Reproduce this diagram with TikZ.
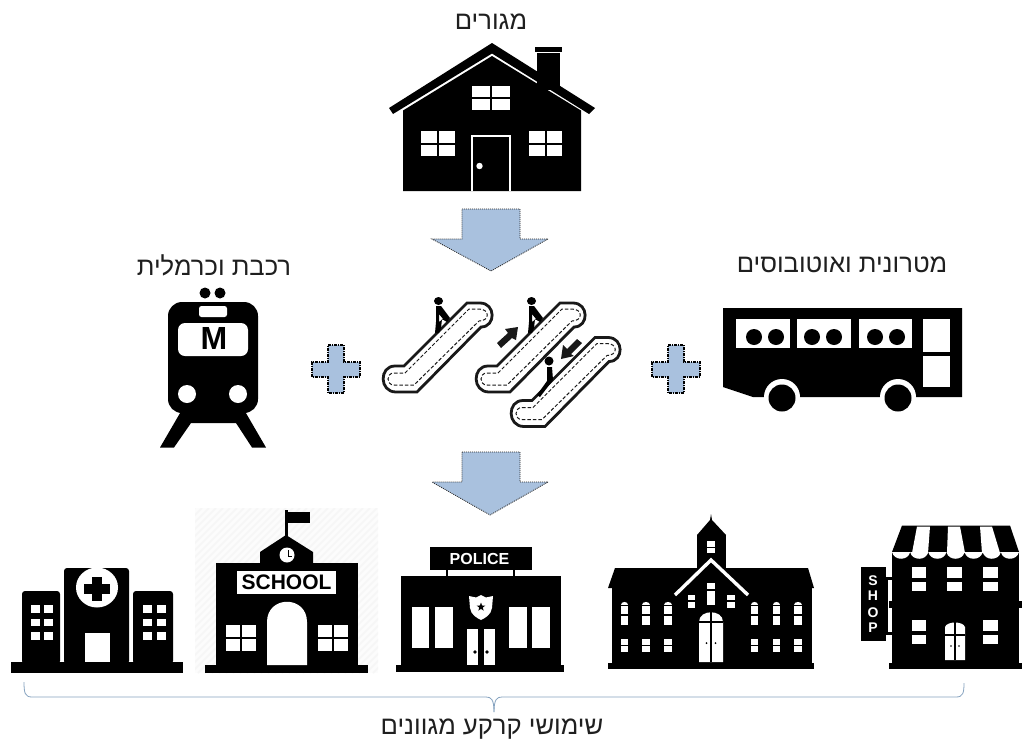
\documentclass[tikz,border=0pt]{standalone}
\usepackage{fontspec}
\usetikzlibrary{shapes.geometric}
\setmainfont{Liberation Sans}
\newfontfamily\hebfont[Script=Hebrew]{Liberation Sans}
\TeXXeTstate=1
\definecolor{arrowblue}{HTML}{A9C1DE}
\definecolor{bracecol}{HTML}{86A3C0}
\newcommand{\crosswin}[5]{% x1 y1 x2 y2 bar
  \fill[white] (#1,#2) rectangle (#3,#4);
  \draw[black,line width=#5pt] ({(#1+#3)/2},#2) -- ({(#1+#3)/2},#4) (#1,{(#2+#4)/2}) -- (#3,{(#2+#4)/2});}
\newcommand{\whitebox}[4]{\fill[white] (#1,#2) rectangle (#3,#4);}
\newcommand{\splitwin}[5]{% x1 y1 x2 y2 ybreak
  \fill[white] (#1,#2) rectangle (#3,#4);
  \draw[black,line width=1.6pt] (#1,#5) -- (#3,#5);}
\tikzset{
  label text/.style={font=\hebfont\fontsize{25.6}{30}\selectfont,text=black!88,inner sep=0pt,anchor=center},
  block/.style={fill=arrowblue,draw=black!85,line width=0.8pt,dash pattern=on 1pt off 1pt},
  plusblock/.style={fill=arrowblue,draw=black,line width=1.1pt,dash pattern=on 3pt off 1pt on 1pt off 1pt},
  esc outer/.style={fill=white,draw=black!90,line width=2.8pt},
  esc inner/.style={draw=black!90,line width=1pt,dash pattern=on 3.5pt off 2pt},
}
\begin{document}
\begin{tikzpicture}[x=1pt,y=-1pt]
\useasboundingbox (0,0) rectangle (1033,742);
\fill[white] (0,0) rectangle (1033,742);

% labels
\node[label text] (lblhome) at (491,22) {\beginR מגורים\endR};
\node[label text] (lbltrain) at (214,265) {\beginR רכבת וכרמלית\endR};
\node[label text] (lblbus) at (842,265) {\beginR מטרונית ואוטובוסים\endR};
\node[label text] (lblland) at (492,729) {\beginR שימושי קרקע מגוונים\endR};

% house
\fill[black] (537,52.5) rectangle (560,90);
\fill[black] (535,47) rectangle (562,51.5);
\fill[black] (403,110.5) -- (492,56) -- (581,110.5) -- (581,191) -- (403,191) -- cycle;
\fill[black] (492,43) -- (595,108) -- (589,114) -- (492,53.5) -- (393,114) -- (389,108) -- cycle;
\crosswin{472}{86}{510}{110}{2}
\crosswin{421}{131}{455}{156}{2}
\crosswin{529}{131}{562}{156}{2}
\draw[white,line width=1.6pt] (472,191) -- (472,136) -- (510,136) -- (510,191);
\fill[white] (479.5,166) circle[radius=3.2pt];

% arrows
\draw[block] (462,209) -- (520,209) -- (520,239) -- (548,239) -- (491,271) -- (432,239) -- (462,239) -- cycle;
\draw[block] (462,452) -- (520,452) -- (520,482) -- (548,482) -- (490,515) -- (432,482) -- (462,482) -- cycle;

% pluses
\draw[plusblock] (328,345) -- (344,345) -- (344,362) -- (360,362) -- (360,377) -- (344,377) -- (344,393) -- (328,393) -- (328,377) -- (312,377) -- (312,362) -- (328,362) -- cycle;
\draw[plusblock] (668,345) -- (684,345) -- (684,362) -- (700,362) -- (700,377) -- (684,377) -- (684,393) -- (668,393) -- (668,377) -- (652,377) -- (652,362) -- (668,362) -- cycle;

% train
\fill[black] (205,293) circle[radius=5.5pt] (220,293) circle[radius=5.5pt];
\fill[black] (183,408) -- (160,447.5) -- (174,447.5) -- (191,423) -- (236,423) -- (252,447.5) -- (266,447.5) -- (243,408) -- cycle;
\fill[black,rounded corners=14pt] (168,302) rectangle (258,413);
\fill[white,rounded corners=2.5pt] (199,306) rectangle (227,317);
\fill[white,rounded corners=7pt] (178,323) rectangle (248,356);
\node[font=\bfseries\fontsize{32}{32}\selectfont,inner sep=0pt,text=black] (metro) at (214,338) {M};
\fill[white] (187,394) circle[radius=9pt] (238,394) circle[radius=9pt];

% escalators
\foreach \dx/\dy in {0/0,93/0,128/34.5}{
\begin{scope}[shift={(\dx pt,-\dy pt)}]
  \draw[esc outer] (395,366) -- (404,366) -- (467,303) -- (480,303) .. controls (496,303) and (496,327) .. (481,327) -- (417,392) -- (396,392) .. controls (379,392) and (379,366) .. (395,366) -- cycle;
  \draw[esc inner] (394,373) -- (405,373) -- (469,309) -- (479,309) .. controls (490,309) and (490,321) .. (479,321) -- (414,385) -- (394,385) .. controls (386,385) and (386,373) .. (394,373) -- cycle;
\end{scope}}
% riders going up
\foreach \dx in {0,93}{
\begin{scope}[shift={(\dx pt,0pt)}]
  \fill[black] (438.5,301) ellipse[x radius=4.5pt,y radius=4pt];
  \fill[black,even odd rule] (436,306) -- (441,306) -- (450,318) -- (447,322) -- (442,319) -- (441,328) -- (439,333) -- (435,333) -- (436,322) -- cycle
    (439,314) -- (439,322) -- (443,319) -- cycle;
\end{scope}}
% rider going down
\fill[black] (549,361) circle[radius=4.5pt];
\fill[black] (547,367) -- (552,367) -- (553,380) -- (540,397) -- (537,395) -- (547,381) -- cycle;
% direction arrows
\fill[black!90] (497,343) -- (501,348) -- (512,338) -- (516,340) -- (518,327) -- (505,329) -- (508,333) -- cycle;
\fill[black!90] (577,339) -- (582,343) -- (571,354) -- (574,356) -- (561,359) -- (563,345) -- (567,349) -- cycle;

% bus
\fill[black] (723,308) -- (962,308) -- (962,397) -- (753,397) -- (723,387) -- cycle;
\foreach \xa/\xb in {736/790,797/851,859/912}{\fill[white] (\xa,319) rectangle (\xb,348);}
\foreach \xc in {754,776,812,834,875,897}{\fill[black] (\xc,337) circle[radius=8pt];}
\fill[white] (923,319) rectangle (950,352);
\fill[white] (923,356) rectangle (950,387);
\foreach \xc in {782,898}{
  \fill[white] (\xc,397) circle[radius=18pt];
  \fill[black] (\xc,398) circle[radius=13.5pt];}

% hospital
\fill[black] (11,662) rectangle (183,673);
\fill[black,rounded corners=3pt] (64,568) -- (129,568) -- (129,664) -- (64,664) -- cycle;
\fill[black,rounded corners=3pt] (22,664) -- (22,591) -- (60,591) -- (60,664) -- cycle;
\fill[black,rounded corners=3pt] (133,664) -- (133,591) -- (173,591) -- (173,664) -- cycle;
\fill[white] (97,587.5) ellipse[x radius=21pt,y radius=20pt];
\fill[black] (92,577) rectangle (102,601);
\fill[black] (84,584) rectangle (110,594);
\whitebox{85}{633}{110}{662}
\foreach \yy in {605,618.5,632}{
  \foreach \xx in {31,44,143,157}{\fill[white] (\xx,\yy) rectangle ++(8.5,7.5);}}

% school
\begin{scope}
  \clip (195,508) rectangle (378,673);
  \fill[black!1] (195,508) rectangle (378,673);
  \foreach \k in {0,7,...,350}{\draw[black!3.5,line width=1.6pt] ({195+\k-165},673) -- ({195+\k},508);}
\end{scope}
\fill[black] (205,665) rectangle (368,673);
\fill[black] (216,563) rectangle (358,665);
\fill[black] (260,564) -- (260,552) -- (286,535) -- (313,552) -- (313,564) -- cycle;
\fill[black] (285,510) rectangle (288,537);
\fill[black] (288,512) rectangle (310,523);
\fill[white] (287,555) circle[radius=7.5pt];
\draw[black,line width=0.8pt] (288,550) -- (288,556) -- (292,556);
\fill[white] (237,571) rectangle (336,594);
\node[font=\bfseries\fontsize{21}{21}\selectfont,inner sep=0pt,text=black] (schooltext) at (286.5,582.5) {SCHOOL};
\fill[white] (267,665) -- (267,622) .. controls (267,595) and (307,595) .. (307,622) -- (307,665) -- cycle;
\crosswin{226}{625}{256}{651}{2.4}
\crosswin{318}{625}{348}{651}{2.4}

% police
\fill[black] (430,547) rectangle (532,570);
\node[font=\bfseries\fontsize{16}{16}\selectfont,inner sep=0pt,text=white] (policetext) at (479.5,558.5) {POLICE};
\fill[black] (445.5,570) rectangle (447.5,577);
\fill[black] (512.5,570) rectangle (514.5,577);
\fill[black] (401,576) rectangle (561,666);
\fill[black] (396,665) rectangle (564,672);
\foreach \xa/\xb in {412/429,435/453,509/527,532/550}{\fill[white] (\xa,607) rectangle (\xb,648);}
\foreach \xa/\xb in {467/478,484/495}{\fill[white] (\xa,629) rectangle (\xb,665);}
\fill[black] (475,652) circle[radius=1.8pt] (487,652) circle[radius=1.8pt];
\fill[white] (481,595) -- (486,597.5) -- (493,596) -- (492,608) .. controls (491,615) and (485,618) .. (481,620) .. controls (477,618) and (471,615) .. (470,608) -- (469,596) -- (476,597.5) -- cycle;
\node[star,star points=5,star point ratio=2.4,fill=black,minimum size=9pt,inner sep=0pt] (badgestar) at (481,607) {};

% college
\fill[black] (608,663) rectangle (814,669);
\fill[black] (612,588) rectangle (812,664);
\fill[black] (608,588) -- (615,568) -- (808,568) -- (814,588) -- cycle;
\fill[black] (697,535) rectangle (726,570);
\fill[black] (697,535) -- (710,520) -- (711,514) -- (712,520) -- (726,535) -- cycle;
\draw[white,line width=3.4pt] (675,595) -- (711,560) -- (748,595);
\splitwin{707}{541}{715}{553}{547.5}
\splitwin{707}{583}{715}{605}{590}
\splitwin{688}{595}{695}{608}{601}
\splitwin{727}{595}{735}{608}{601}
\foreach \xa/\xb in {621/628,642/650,664/672,751/758,773/780,794/802}{
  \splitwin{\xa}{605}{\xb}{625}{615}
  \fill[white] (\xa,605) .. controls (\xa,601) and (\xb,601) .. (\xb,605);
  \draw[black,line width=0.8pt] (\xa,605) -- (\xb,605);
  \splitwin{\xa}{639}{\xb}{652}{645.5}
}
\fill[white] (699,662) -- (699,622) .. controls (699,609) and (723,609) .. (723,622) -- (723,662) -- cycle;
\draw[black,line width=1.2pt] (711,612) -- (711,662) (699,622) -- (723,622);
\fill[black] (706.5,643) circle[radius=1pt] (715.5,643) circle[radius=1pt];

% shop
\fill[black] (892,552) rectangle (1019,664);
\fill[black] (889,663) rectangle (1022,669);
\fill[black] (889,601) rectangle (893,608);
\fill[black] (1018,601) rectangle (1022,608);
\fill[black] (902,525.5) -- (1010,525.5) -- (1019,552) -- (892,552) -- cycle;
\fill[white] (917,526.5) -- (930,526.5) -- (928,553) -- (912,553) -- cycle;
\fill[white] (948,526.5) -- (960,526.5) -- (965,553) -- (947,553) -- cycle;
\fill[white] (980,526.5) -- (992,526.5) -- (1000,553) -- (982,553) -- cycle;
\foreach \i in {0,...,6}{
  \pgfmathsetmacro{\xs}{892+\i*18.14}
  \pgfmathsetmacro{\xe}{\xs+18.14}
  \pgfmathsetmacro{\ca}{\xs+2}
  \pgfmathsetmacro{\cb}{\xe-2}
  \fill[white] (\xs,552) .. controls (\ca,561) and (\cb,561) .. (\xe,552) -- cycle;
}
\foreach \xa/\xb in {912/926,947/962,983/998}{
  \fill[white] (\xa,567) rectangle (\xb,578);
  \fill[white] (\xa,582) rectangle (\xb,591);}
\foreach \xa/\xb in {912/926,983/998}{
  \fill[white] (\xa,620) rectangle (\xb,631);
  \fill[white] (\xa,635) rectangle (\xb,644);}
\fill[white] (945,660) -- (945,627) .. controls (947,621) and (963,621) .. (965,627) -- (965,660) -- cycle;
\draw[black,line width=1.2pt] (955,620) -- (955,660) (945,635) -- (965,635);
\fill[black] (951,646) circle[radius=0.9pt] (959,646) circle[radius=0.9pt];
\fill[black] (861,567) rectangle (886,641);
\fill[black] (886,577) rectangle (893,580);
\fill[black] (886,632) rectangle (893,635);
\fill[black] (886,579) rectangle (887.5,633);
\foreach \ch/\yy in {S/581,H/596,O/613,P/628}{
  \node[font=\bfseries\fontsize{14}{14}\selectfont,inner sep=0pt,text=white] (shop\ch) at (873,\yy) {\ch};}

% bracket
\coordinate (brl) at (24,682);
\coordinate (brr) at (964,683);
\coordinate (brm) at (494,712);
\draw[bracecol,line width=0.8pt] (brl) .. controls (24,693) and (25,697) .. (32,697) -- (486,697) .. controls (491,697) and (494,699) .. (brm);
\draw[bracecol,line width=0.8pt] (brr) .. controls (964,693) and (963,697) .. (956,697) -- (502,697) .. controls (497,697) and (494,699) .. (brm);
\end{tikzpicture}
\end{document}
